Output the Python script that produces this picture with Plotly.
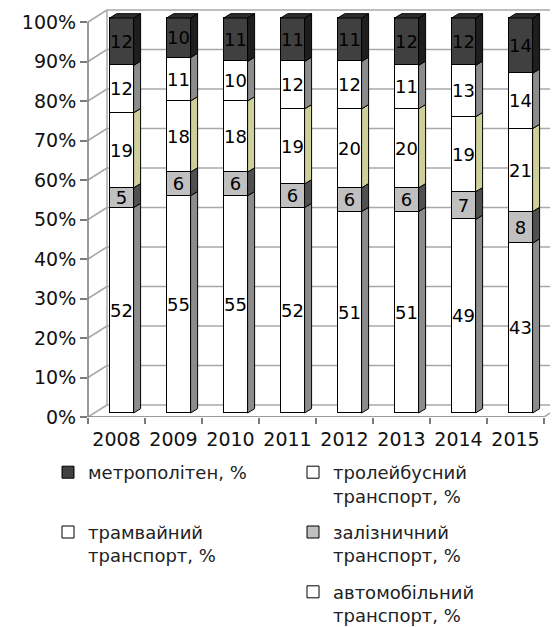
import plotly.graph_objects as go

years = ["2008", "2009", "2010", "2011", "2012", "2013", "2014", "2015"]
avto = [52, 55, 55, 52, 51, 51, 49, 43]
zaliz = [5, 6, 6, 6, 6, 6, 7, 8]
tram = [19, 18, 18, 19, 20, 20, 19, 21]
trol = [12, 11, 10, 12, 12, 11, 13, 14]
metro = [12, 10, 11, 11, 11, 12, 12, 14]
y_ticks = [0, 10, 20, 30, 40, 50, 60, 70, 80, 90, 100]
y_labels = [f"{v}%" for v in y_ticks]

series = [
    ("автомобільний<br>транспорт, %", avto, "#ffffff", "#8c8c8c", "legend2", 3),
    ("залізничний<br>транспорт, %", zaliz, "#c0c0c0", "#505050", "legend2", 2),
    ("трамвайний<br>транспорт, %", tram, "#ffffff", "#cfcf9c", "legend", 2),
    ("тролейбусний<br>транспорт, %", trol, "#ffffff", "#8c8c8c", "legend2", 1),
    ("метрополітен, %<br> ", metro, "#404040", "#1e1e1e", "legend", 1),
]

# page body has an 8px margin, so the figure is 8px smaller in both directions
W, H = 550, 619
L, R, T, B = 80, 0, 0, 210
pw, ph = W - L - R, H - T - B
cat_px = 57.0
xr = [-0.5, -0.5 + pw / cat_px]
ppu = 3.95
yr = [0, ph / ppu]
bar_shift_px = 4
yr2 = [-bar_shift_px / ppu, ph / ppu - bar_shift_px / ppu]
wall_dx_px, wall_dy_px = 19, 12
wall_dx_paper = wall_dx_px / pw
wall_dy = wall_dy_px / ppu

xs = [i + 0.09 for i in range(len(years))]
bw = 0.42
sdx = 7 / cat_px
sdy = 4.3 / ppu

font = "DejaVu Sans"
fig = go.Figure()

base = [0] * len(years)
for k, (name, vals, fc, sc, lg, rank) in enumerate(series):
    fig.add_trace(go.Bar(
        x=xs, y=vals, width=bw, name=name, yaxis="y2",
        marker=dict(color=fc, line=dict(color="#000000", width=1)),
        text=[str(v) for v in vals], textposition="inside",
        insidetextanchor="middle", textangle=0, constraintext="none",
        textfont=dict(family=font, size=18, color="#000000"),
        legend=lg, legendrank=rank, legendgroup=f"g{k}", hoverinfo="skip",
    ))
    px, py = [], []
    for i, v in enumerate(vals):
        b0 = base[i]
        t0 = b0 + v
        xe = xs[i] + bw / 2
        px += [xe, xe + sdx, xe + sdx, xe, xe, None]
        py += [b0, b0 + sdy, t0 + sdy, t0, b0, None]
    fig.add_trace(go.Scatter(
        x=px, y=py, mode="lines", fill="toself", fillcolor=sc,
        line=dict(color="#000000", width=1), yaxis="y2",
        showlegend=False, hoverinfo="skip",
    ))
    base = [base[i] + vals[i] for i in range(len(years))]

# top faces of the stacks
tx, ty = [], []
for i in range(len(years)):
    xl = xs[i] - bw / 2
    xe = xs[i] + bw / 2
    t0 = base[i]
    tx += [xl, xl + sdx, xe + sdx, xe, xl, None]
    ty += [t0, t0 + sdy, t0 + sdy, t0, t0, None]
fig.add_trace(go.Scatter(
    x=tx, y=ty, mode="lines", fill="toself", fillcolor="#2e2e2e",
    line=dict(color="#000000", width=1), yaxis="y2",
    showlegend=False, hoverinfo="skip",
))

shapes = []
gcol = "#a8a8a8"
for v in y_ticks:
    shapes.append(dict(type="line", layer="below", xref="paper", yref="y",
                       x0=wall_dx_paper, x1=1, y0=v + wall_dy, y1=v + wall_dy,
                       line=dict(color=gcol, width=1.5)))
    shapes.append(dict(type="line", layer="below", xref="paper", yref="y",
                       x0=0, x1=wall_dx_paper, y0=v, y1=v + wall_dy,
                       line=dict(color=gcol, width=1.5)))
shapes.append(dict(type="line", layer="below", xref="paper", yref="y",
                   x0=wall_dx_paper, x1=wall_dx_paper, y0=wall_dy, y1=100 + wall_dy,
                   line=dict(color=gcol, width=1.5)))
acol = "#7a7a7a"
shapes.append(dict(type="line", layer="above", xref="paper", yref="y",
                   x0=0, x1=0, y0=0, y1=100, line=dict(color=acol, width=1.5)))
shapes.append(dict(type="line", layer="below", xref="x", yref="y",
                   x0=-0.5, x1=len(years) - 0.5, y0=0, y1=0,
                   line=dict(color=acol, width=1.5)))
shapes.append(dict(type="line", layer="below", xref="x", yref="y",
                   x0=len(years) - 0.5, x1=len(years) - 0.5 + wall_dx_px / cat_px,
                   y0=0, y1=wall_dy, line=dict(color=gcol, width=1.5)))

leg_common = dict(xref="container", yref="container", xanchor="left", yanchor="top",
                  orientation="v", traceorder="grouped", valign="top",
                  tracegroupgap=10,
                  font=dict(family=font, size=18, color="#222222"),
                  bgcolor="rgba(0,0,0,0)")

fig.update_layout(
    width=W, height=H,
    margin=dict(l=L, r=R, t=T, b=B, autoexpand=False),
    paper_bgcolor="#ffffff", plot_bgcolor="rgba(0,0,0,0)",
    barmode="stack", bargap=0,
    shapes=shapes,
    xaxis=dict(range=xr, autorange=False, showgrid=False, zeroline=False, showline=False,
               tickmode="array", tickvals=list(range(len(years))), ticktext=years, ticks="",
               tickfont=dict(family=font, size=19, color="#111111"),
               ticklabelstandoff=9, automargin=False,
               minor=dict(tickmode="array", tickvals=[i - 0.5 for i in range(len(years) + 1)],
                          ticks="outside", ticklen=6, tickcolor=acol, tickwidth=1.5)),
    yaxis=dict(range=yr, autorange=False, showgrid=False, zeroline=False, showline=False,
               tickmode="array", tickvals=y_ticks, ticktext=y_labels,
               ticks="outside", ticklen=7,
               tickcolor=acol, tickwidth=1.5, automargin=False,
               tickfont=dict(family=font, size=19, color="#111111")),
    yaxis2=dict(range=yr2, autorange=False, overlaying="y", visible=False),
    legend=dict(x=40 / W, y=1 - 446 / H, **leg_common),
    legend2=dict(x=285 / W, y=1 - 446 / H, **leg_common),
    showlegend=True,
)

fig.write_html("out.html")
